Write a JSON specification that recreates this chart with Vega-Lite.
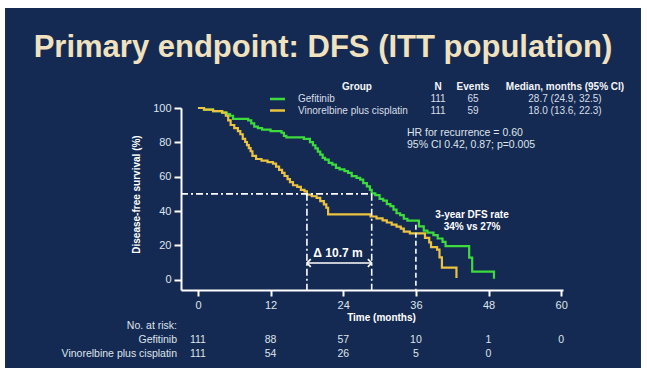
{
  "$schema": "https://vega.github.io/schema/vega-lite/v6.json",
  "width": 382,
  "height": 182,
  "autosize": {"type": "none"},
  "padding": {"left": 181, "top": 108, "right": 84, "bottom": 82},
  "background": "#ffffff",
  "config": {"view": {"stroke": null}, "font": "Liberation Sans", "axis": {"zindex": 1, "labelOverlap": false}},
  "title": {
    "text": "Primary endpoint: DFS (ITT population)",
    "anchor": "middle",
    "frame": "bounds",
    "offset": -80,
    "baseline": "alphabetic",
    "fontSize": 31,
    "fontWeight": "bold",
    "font": "Liberation Sans",
    "color": "#f0e2bf"
  },
  "data": {"values": [{"note": "annotation"}]},
  "datasets": {
    "km": [
      {"group": "Gefitinib", "t": 0, "s": 100},
      {"group": "Gefitinib", "t": 1.0, "s": 99.1},
      {"group": "Gefitinib", "t": 2.5, "s": 98.2},
      {"group": "Gefitinib", "t": 4.0, "s": 97.3},
      {"group": "Gefitinib", "t": 4.8, "s": 96.4},
      {"group": "Gefitinib", "t": 5.3, "s": 95.5},
      {"group": "Gefitinib", "t": 5.8, "s": 93.7},
      {"group": "Gefitinib", "t": 8.3, "s": 92.8},
      {"group": "Gefitinib", "t": 8.8, "s": 91.0},
      {"group": "Gefitinib", "t": 9.3, "s": 89.2},
      {"group": "Gefitinib", "t": 9.9, "s": 88.3},
      {"group": "Gefitinib", "t": 10.6, "s": 87.4},
      {"group": "Gefitinib", "t": 12.0, "s": 86.5},
      {"group": "Gefitinib", "t": 13.8, "s": 85.6},
      {"group": "Gefitinib", "t": 14.2, "s": 83.8},
      {"group": "Gefitinib", "t": 14.6, "s": 82.9},
      {"group": "Gefitinib", "t": 17.5, "s": 82.0},
      {"group": "Gefitinib", "t": 18.5, "s": 80.1},
      {"group": "Gefitinib", "t": 19.0, "s": 78.3},
      {"group": "Gefitinib", "t": 19.4, "s": 76.5},
      {"group": "Gefitinib", "t": 19.8, "s": 74.6},
      {"group": "Gefitinib", "t": 20.2, "s": 72.8},
      {"group": "Gefitinib", "t": 20.6, "s": 70.9},
      {"group": "Gefitinib", "t": 21.0, "s": 69.9},
      {"group": "Gefitinib", "t": 21.6, "s": 68.0},
      {"group": "Gefitinib", "t": 22.2, "s": 67.0},
      {"group": "Gefitinib", "t": 22.8, "s": 65.1},
      {"group": "Gefitinib", "t": 23.4, "s": 64.2},
      {"group": "Gefitinib", "t": 24.2, "s": 63.2},
      {"group": "Gefitinib", "t": 24.8, "s": 62.2},
      {"group": "Gefitinib", "t": 25.4, "s": 60.3},
      {"group": "Gefitinib", "t": 26.2, "s": 59.3},
      {"group": "Gefitinib", "t": 26.8, "s": 58.3},
      {"group": "Gefitinib", "t": 27.3, "s": 56.3},
      {"group": "Gefitinib", "t": 27.9, "s": 54.3},
      {"group": "Gefitinib", "t": 28.4, "s": 52.3},
      {"group": "Gefitinib", "t": 28.7, "s": 50.3},
      {"group": "Gefitinib", "t": 29.3, "s": 49.2},
      {"group": "Gefitinib", "t": 30.0, "s": 47.1},
      {"group": "Gefitinib", "t": 30.6, "s": 46.0},
      {"group": "Gefitinib", "t": 31.2, "s": 44.0},
      {"group": "Gefitinib", "t": 31.8, "s": 42.9},
      {"group": "Gefitinib", "t": 32.3, "s": 40.8},
      {"group": "Gefitinib", "t": 32.8, "s": 38.7},
      {"group": "Gefitinib", "t": 33.4, "s": 37.6},
      {"group": "Gefitinib", "t": 34.0, "s": 35.5},
      {"group": "Gefitinib", "t": 34.6, "s": 34.4},
      {"group": "Gefitinib", "t": 36.5, "s": 31.0},
      {"group": "Gefitinib", "t": 37.3, "s": 28.6},
      {"group": "Gefitinib", "t": 37.9, "s": 27.4},
      {"group": "Gefitinib", "t": 38.9, "s": 26.0},
      {"group": "Gefitinib", "t": 39.6, "s": 24.0},
      {"group": "Gefitinib", "t": 40.4, "s": 22.0},
      {"group": "Gefitinib", "t": 40.9, "s": 19.5},
      {"group": "Gefitinib", "t": 44.8, "s": 12.8},
      {"group": "Gefitinib", "t": 45.3, "s": 4.7},
      {"group": "Gefitinib", "t": 48.9, "s": 0.6},
      {"group": "Vinorelbine plus cisplatin", "t": 0, "s": 100},
      {"group": "Vinorelbine plus cisplatin", "t": 1.0, "s": 99.1},
      {"group": "Vinorelbine plus cisplatin", "t": 2.5, "s": 98.2},
      {"group": "Vinorelbine plus cisplatin", "t": 4.0, "s": 97.3},
      {"group": "Vinorelbine plus cisplatin", "t": 4.6, "s": 95.5},
      {"group": "Vinorelbine plus cisplatin", "t": 5.0, "s": 92.8},
      {"group": "Vinorelbine plus cisplatin", "t": 5.4, "s": 90.1},
      {"group": "Vinorelbine plus cisplatin", "t": 6.0, "s": 88.3},
      {"group": "Vinorelbine plus cisplatin", "t": 6.6, "s": 86.5},
      {"group": "Vinorelbine plus cisplatin", "t": 7.0, "s": 84.7},
      {"group": "Vinorelbine plus cisplatin", "t": 7.4, "s": 82.0},
      {"group": "Vinorelbine plus cisplatin", "t": 7.8, "s": 80.2},
      {"group": "Vinorelbine plus cisplatin", "t": 8.1, "s": 78.4},
      {"group": "Vinorelbine plus cisplatin", "t": 8.4, "s": 76.6},
      {"group": "Vinorelbine plus cisplatin", "t": 8.7, "s": 74.8},
      {"group": "Vinorelbine plus cisplatin", "t": 9.0, "s": 72.1},
      {"group": "Vinorelbine plus cisplatin", "t": 9.6, "s": 70.3},
      {"group": "Vinorelbine plus cisplatin", "t": 10.5, "s": 69.4},
      {"group": "Vinorelbine plus cisplatin", "t": 11.5, "s": 68.5},
      {"group": "Vinorelbine plus cisplatin", "t": 12.4, "s": 67.6},
      {"group": "Vinorelbine plus cisplatin", "t": 12.9, "s": 65.8},
      {"group": "Vinorelbine plus cisplatin", "t": 13.4, "s": 64.0},
      {"group": "Vinorelbine plus cisplatin", "t": 13.9, "s": 62.2},
      {"group": "Vinorelbine plus cisplatin", "t": 14.3, "s": 60.4},
      {"group": "Vinorelbine plus cisplatin", "t": 14.8, "s": 58.6},
      {"group": "Vinorelbine plus cisplatin", "t": 15.2, "s": 56.8},
      {"group": "Vinorelbine plus cisplatin", "t": 15.7, "s": 55.0},
      {"group": "Vinorelbine plus cisplatin", "t": 16.4, "s": 54.1},
      {"group": "Vinorelbine plus cisplatin", "t": 17.0, "s": 52.3},
      {"group": "Vinorelbine plus cisplatin", "t": 17.6, "s": 51.4},
      {"group": "Vinorelbine plus cisplatin", "t": 18.0, "s": 49.6},
      {"group": "Vinorelbine plus cisplatin", "t": 18.8, "s": 48.6},
      {"group": "Vinorelbine plus cisplatin", "t": 19.6, "s": 47.7},
      {"group": "Vinorelbine plus cisplatin", "t": 20.2, "s": 45.8},
      {"group": "Vinorelbine plus cisplatin", "t": 20.8, "s": 43.9},
      {"group": "Vinorelbine plus cisplatin", "t": 21.2, "s": 41.9},
      {"group": "Vinorelbine plus cisplatin", "t": 21.5, "s": 38.0},
      {"group": "Vinorelbine plus cisplatin", "t": 28.5, "s": 36.8},
      {"group": "Vinorelbine plus cisplatin", "t": 29.5, "s": 35.7},
      {"group": "Vinorelbine plus cisplatin", "t": 30.5, "s": 34.5},
      {"group": "Vinorelbine plus cisplatin", "t": 31.2, "s": 33.3},
      {"group": "Vinorelbine plus cisplatin", "t": 32.0, "s": 32.1},
      {"group": "Vinorelbine plus cisplatin", "t": 32.8, "s": 30.9},
      {"group": "Vinorelbine plus cisplatin", "t": 33.5, "s": 29.7},
      {"group": "Vinorelbine plus cisplatin", "t": 34.0, "s": 28.0},
      {"group": "Vinorelbine plus cisplatin", "t": 35.0, "s": 27.0},
      {"group": "Vinorelbine plus cisplatin", "t": 37.5, "s": 24.4},
      {"group": "Vinorelbine plus cisplatin", "t": 38.2, "s": 21.7},
      {"group": "Vinorelbine plus cisplatin", "t": 38.5, "s": 19.0},
      {"group": "Vinorelbine plus cisplatin", "t": 39.5, "s": 17.5},
      {"group": "Vinorelbine plus cisplatin", "t": 39.9, "s": 13.0},
      {"group": "Vinorelbine plus cisplatin", "t": 40.3, "s": 7.0},
      {"group": "Vinorelbine plus cisplatin", "t": 42.7, "s": 1.0}
    ],
    "medians": [
      {"group": "Gefitinib", "median": 28.7},
      {"group": "Vinorelbine plus cisplatin", "median": 18.0}
    ],
    "summary": [
      {"group": "Gefitinib", "n": 111, "events": 65, "median": "28.7 (24.9, 32.5)"},
      {"group": "Vinorelbine plus cisplatin", "n": 111, "events": 59, "median": "18.0 (13.6, 22.3)"}
    ],
    "risk": [
      {"group": "Gefitinib", "t": 0, "n": 111},
      {"group": "Gefitinib", "t": 12, "n": 88},
      {"group": "Gefitinib", "t": 24, "n": 57},
      {"group": "Gefitinib", "t": 36, "n": 10},
      {"group": "Gefitinib", "t": 48, "n": 1},
      {"group": "Gefitinib", "t": 60, "n": 0},
      {"group": "Vinorelbine plus cisplatin", "t": 0, "n": 111},
      {"group": "Vinorelbine plus cisplatin", "t": 12, "n": 54},
      {"group": "Vinorelbine plus cisplatin", "t": 24, "n": 26},
      {"group": "Vinorelbine plus cisplatin", "t": 36, "n": 5},
      {"group": "Vinorelbine plus cisplatin", "t": 48, "n": 0}
    ]
  },
  "layer": [
    {
      "mark": {"type": "rect", "color": "#142a52"},
      "encoding": {
        "x": {"datum": -31.87, "type": "quantitative"},
        "x2": {"datum": 73.18},
        "y": {"datum": 158.24, "type": "quantitative"},
        "y2": {"datum": -51.43}
      }
    },
    {
      "data": {"name": "km"},
      "mark": {"type": "line", "interpolate": "step-after", "strokeWidth": 2.2},
      "encoding": {
        "x": {
          "field": "t", "type": "quantitative",
          "scale": {"domain": [-2.8, 60.3], "nice": false, "zero": false},
          "axis": {
            "values": [0, 12, 24, 36, 48, 60], "tickCount": 12, "title": "Time (months)", "titleFontWeight": "bold",
            "titleFontSize": 10, "titleColor": "#ffffff", "titlePadding": 2, "titleX": 200,
            "labelFontSize": 11, "labelColor": "#dfe4ec", "labelPadding": 3,
            "domainColor": "#ffffff", "domainWidth": 2, "tickColor": "#ffffff", "tickWidth": 2,
            "tickSize": 6, "grid": false, "zindex": 1, "labelOverlap": false
          }
        },
        "y": {
          "field": "s", "type": "quantitative",
          "scale": {"domain": [-6, 100], "nice": false, "zero": false},
          "axis": {
            "values": [0, 20, 40, 60, 80, 100], "tickCount": 12, "title": "Disease-free survival (%)", "titleFontWeight": "bold",
            "titleFontSize": 10, "titleColor": "#ffffff", "titlePadding": 11, "titleY": 86,
            "labelFontSize": 11, "labelColor": "#dfe4ec", "labelPadding": 3,
            "domainColor": "#ffffff", "domainWidth": 2, "tickColor": "#ffffff", "tickWidth": 2,
            "tickSize": 7, "grid": false, "zindex": 1, "labelOverlap": false
          }
        },
        "color": {
          "field": "group", "type": "nominal",
          "scale": {"domain": ["Gefitinib", "Vinorelbine plus cisplatin"], "range": ["#3ddc3c", "#ebc340"]},
          "legend": null
        }
      }
    },
    {
      "mark": {"type": "rule", "color": "#ffffff", "strokeWidth": 1.6, "strokeDash": [7, 3, 2, 3]},
      "encoding": {
        "x": {"datum": -2.8, "type": "quantitative"},
        "x2": {"datum": 28.7},
        "y": {"datum": 50, "type": "quantitative"}
      }
    },
    {
      "data": {"name": "medians"},
      "mark": {"type": "rule", "color": "#ffffff", "strokeWidth": 1.6, "strokeDash": [7, 3, 2, 3]},
      "encoding": {
        "x": {"field": "median", "type": "quantitative"},
        "y": {"datum": 50, "type": "quantitative"},
        "y2": {"datum": -6}
      }
    },
    {
      "mark": {"type": "rule", "color": "#ffffff", "strokeWidth": 1.6, "strokeDash": [5, 3]},
      "encoding": {
        "x": {"datum": 36, "type": "quantitative"},
        "y": {"datum": 32, "type": "quantitative"},
        "y2": {"datum": -6}
      }
    },
    {
      "mark": {"type": "rule", "color": "#ffffff", "strokeWidth": 1.6},
      "encoding": {
        "x": {"datum": 18.0, "type": "quantitative"},
        "x2": {"datum": 28.7},
        "y": {"datum": 9.73, "type": "quantitative"}
      }
    },
    {
      "data": {"name": "medians"},
      "mark": {"type": "point", "filled": false, "color": "#ffffff", "strokeWidth": 1.6, "size": 60, "opacity": 1},
      "encoding": {
        "x": {"field": "median", "type": "quantitative"},
        "y": {"datum": 9.73, "type": "quantitative"},
        "shape": {
          "field": "group", "type": "nominal",
          "scale": {"domain": ["Gefitinib", "Vinorelbine plus cisplatin"], "range": ["M -1 -1 L 0 0 L -1 1", "M 1 -1 L 0 0 L 1 1"]},
          "legend": null
        }
      }
    },
    {
      "mark": {"type": "text", "text": "Δ 10.7 m", "fontWeight": "bold", "fontSize": 12, "color": "#ffffff", "align": "center", "baseline": "middle"},
      "encoding": {
        "x": {"datum": 23.13, "type": "quantitative"},
        "y": {"datum": 15.55, "type": "quantitative"}
      }
    },
    {
      "mark": {"type": "text", "text": ["HR for recurrence = 0.60", "95% CI 0.42, 0.87; p=0.005"], "fontSize": 10.5, "lineHeight": 12, "color": "#dfe4ec", "align": "left", "baseline": "middle"},
      "encoding": {
        "x": {"datum": 34.53, "type": "quantitative"},
        "y": {"datum": 85.44, "type": "quantitative"}
      }
    },
    {
      "mark": {"type": "text", "text": ["3-year DFS rate", "34% vs 27%"], "fontSize": 10, "fontWeight": "bold", "lineHeight": 12, "color": "#ffffff", "align": "center", "baseline": "middle"},
      "encoding": {
        "x": {"datum": 45.27, "type": "quantitative"},
        "y": {"datum": 37.68, "type": "quantitative"}
      }
    },
    {
      "mark": {"type": "text", "text": "Group", "fontSize": 10, "fontWeight": "bold", "color": "#f4f6fa", "align": "center", "baseline": "middle"},
      "encoding": {"x": {"datum": 26.27, "type": "quantitative"}, "y": {"datum": 112.23, "type": "quantitative"}}
    },
    {
      "mark": {"type": "text", "text": "N", "fontSize": 10, "fontWeight": "bold", "color": "#f4f6fa", "align": "center", "baseline": "middle"},
      "encoding": {"x": {"datum": 39.65, "type": "quantitative"}, "y": {"datum": 112.23, "type": "quantitative"}}
    },
    {
      "mark": {"type": "text", "text": "Events", "fontSize": 10, "fontWeight": "bold", "color": "#f4f6fa", "align": "center", "baseline": "middle"},
      "encoding": {"x": {"datum": 45.43, "type": "quantitative"}, "y": {"datum": 112.23, "type": "quantitative"}}
    },
    {
      "mark": {"type": "text", "text": "Median, months (95% CI)", "fontSize": 10, "fontWeight": "bold", "color": "#f4f6fa", "align": "center", "baseline": "middle"},
      "encoding": {"x": {"datum": 60.63, "type": "quantitative"}, "y": {"datum": 112.23, "type": "quantitative"}}
    },
    {
      "data": {"name": "summary"},
      "transform": [{"filter": "datum.group === 'Gefitinib'"}],
      "mark": {"type": "rule", "strokeWidth": 2.5},
      "encoding": {
        "x": {"datum": 11.9, "type": "quantitative"},
        "x2": {"datum": 14.38},
        "y": {"datum": 105.24, "type": "quantitative"},
        "color": {"field": "group", "type": "nominal", "legend": null}
      }
    },
    {
      "data": {"name": "summary"},
      "transform": [{"filter": "datum.group !== 'Gefitinib'"}],
      "mark": {"type": "rule", "strokeWidth": 2.5},
      "encoding": {
        "x": {"datum": 11.9, "type": "quantitative"},
        "x2": {"datum": 14.38},
        "y": {"datum": 98.54, "type": "quantitative"},
        "color": {"field": "group", "type": "nominal", "legend": null}
      }
    },
    {
      "data": {"name": "summary"},
      "transform": [{"filter": "datum.group === 'Gefitinib'"}],
      "mark": {"type": "text", "fontSize": 10, "color": "#d9dee8", "align": "left", "baseline": "middle"},
      "encoding": {"text": {"field": "group"}, "x": {"datum": 16.53, "type": "quantitative"}, "y": {"datum": 105.24, "type": "quantitative"}}
    },
    {
      "data": {"name": "summary"},
      "transform": [{"filter": "datum.group === 'Gefitinib'"}],
      "mark": {"type": "text", "fontSize": 10, "color": "#d9dee8", "align": "center", "baseline": "middle"},
      "encoding": {"text": {"field": "n"}, "x": {"datum": 39.65, "type": "quantitative"}, "y": {"datum": 105.24, "type": "quantitative"}}
    },
    {
      "data": {"name": "summary"},
      "transform": [{"filter": "datum.group === 'Gefitinib'"}],
      "mark": {"type": "text", "fontSize": 10, "color": "#d9dee8", "align": "center", "baseline": "middle"},
      "encoding": {"text": {"field": "events"}, "x": {"datum": 45.43, "type": "quantitative"}, "y": {"datum": 105.24, "type": "quantitative"}}
    },
    {
      "data": {"name": "summary"},
      "transform": [{"filter": "datum.group === 'Gefitinib'"}],
      "mark": {"type": "text", "fontSize": 10, "color": "#d9dee8", "align": "center", "baseline": "middle"},
      "encoding": {"text": {"field": "median"}, "x": {"datum": 60.63, "type": "quantitative"}, "y": {"datum": 105.24, "type": "quantitative"}}
    },
    {
      "data": {"name": "summary"},
      "transform": [{"filter": "datum.group !== 'Gefitinib'"}],
      "mark": {"type": "text", "fontSize": 10, "color": "#d9dee8", "align": "left", "baseline": "middle"},
      "encoding": {"text": {"field": "group"}, "x": {"datum": 16.53, "type": "quantitative"}, "y": {"datum": 98.54, "type": "quantitative"}}
    },
    {
      "data": {"name": "summary"},
      "transform": [{"filter": "datum.group !== 'Gefitinib'"}],
      "mark": {"type": "text", "fontSize": 10, "color": "#d9dee8", "align": "center", "baseline": "middle"},
      "encoding": {"text": {"field": "n"}, "x": {"datum": 39.65, "type": "quantitative"}, "y": {"datum": 98.54, "type": "quantitative"}}
    },
    {
      "data": {"name": "summary"},
      "transform": [{"filter": "datum.group !== 'Gefitinib'"}],
      "mark": {"type": "text", "fontSize": 10, "color": "#d9dee8", "align": "center", "baseline": "middle"},
      "encoding": {"text": {"field": "events"}, "x": {"datum": 45.43, "type": "quantitative"}, "y": {"datum": 98.54, "type": "quantitative"}}
    },
    {
      "data": {"name": "summary"},
      "transform": [{"filter": "datum.group !== 'Gefitinib'"}],
      "mark": {"type": "text", "fontSize": 10, "color": "#d9dee8", "align": "center", "baseline": "middle"},
      "encoding": {"text": {"field": "median"}, "x": {"datum": 60.63, "type": "quantitative"}, "y": {"datum": 98.54, "type": "quantitative"}}
    },
    {
      "mark": {"type": "text", "text": ["No. at risk:", "Gefitinib", "Vinorelbine plus cisplatin"], "fontSize": 10.5, "lineHeight": 14, "color": "#dfe4ec", "align": "right", "baseline": "middle"},
      "encoding": {
        "x": {"datum": -3.46, "type": "quantitative"},
        "y": {"datum": -26.97, "type": "quantitative"}
      }
    },
    {
      "data": {"name": "risk"},
      "transform": [{"filter": "datum.group === 'Gefitinib'"}],
      "mark": {"type": "text", "fontSize": 10.5, "color": "#dfe4ec", "align": "center", "baseline": "middle"},
      "encoding": {
        "text": {"field": "n"},
        "x": {"field": "t", "type": "quantitative"},
        "y": {"datum": -35.12, "type": "quantitative"}
      }
    },
    {
      "data": {"name": "risk"},
      "transform": [{"filter": "datum.group !== 'Gefitinib'"}],
      "mark": {"type": "text", "fontSize": 10.5, "color": "#dfe4ec", "align": "center", "baseline": "middle"},
      "encoding": {
        "text": {"field": "n"},
        "x": {"field": "t", "type": "quantitative"},
        "y": {"datum": -43.27, "type": "quantitative"}
      }
    }
  ]
}
